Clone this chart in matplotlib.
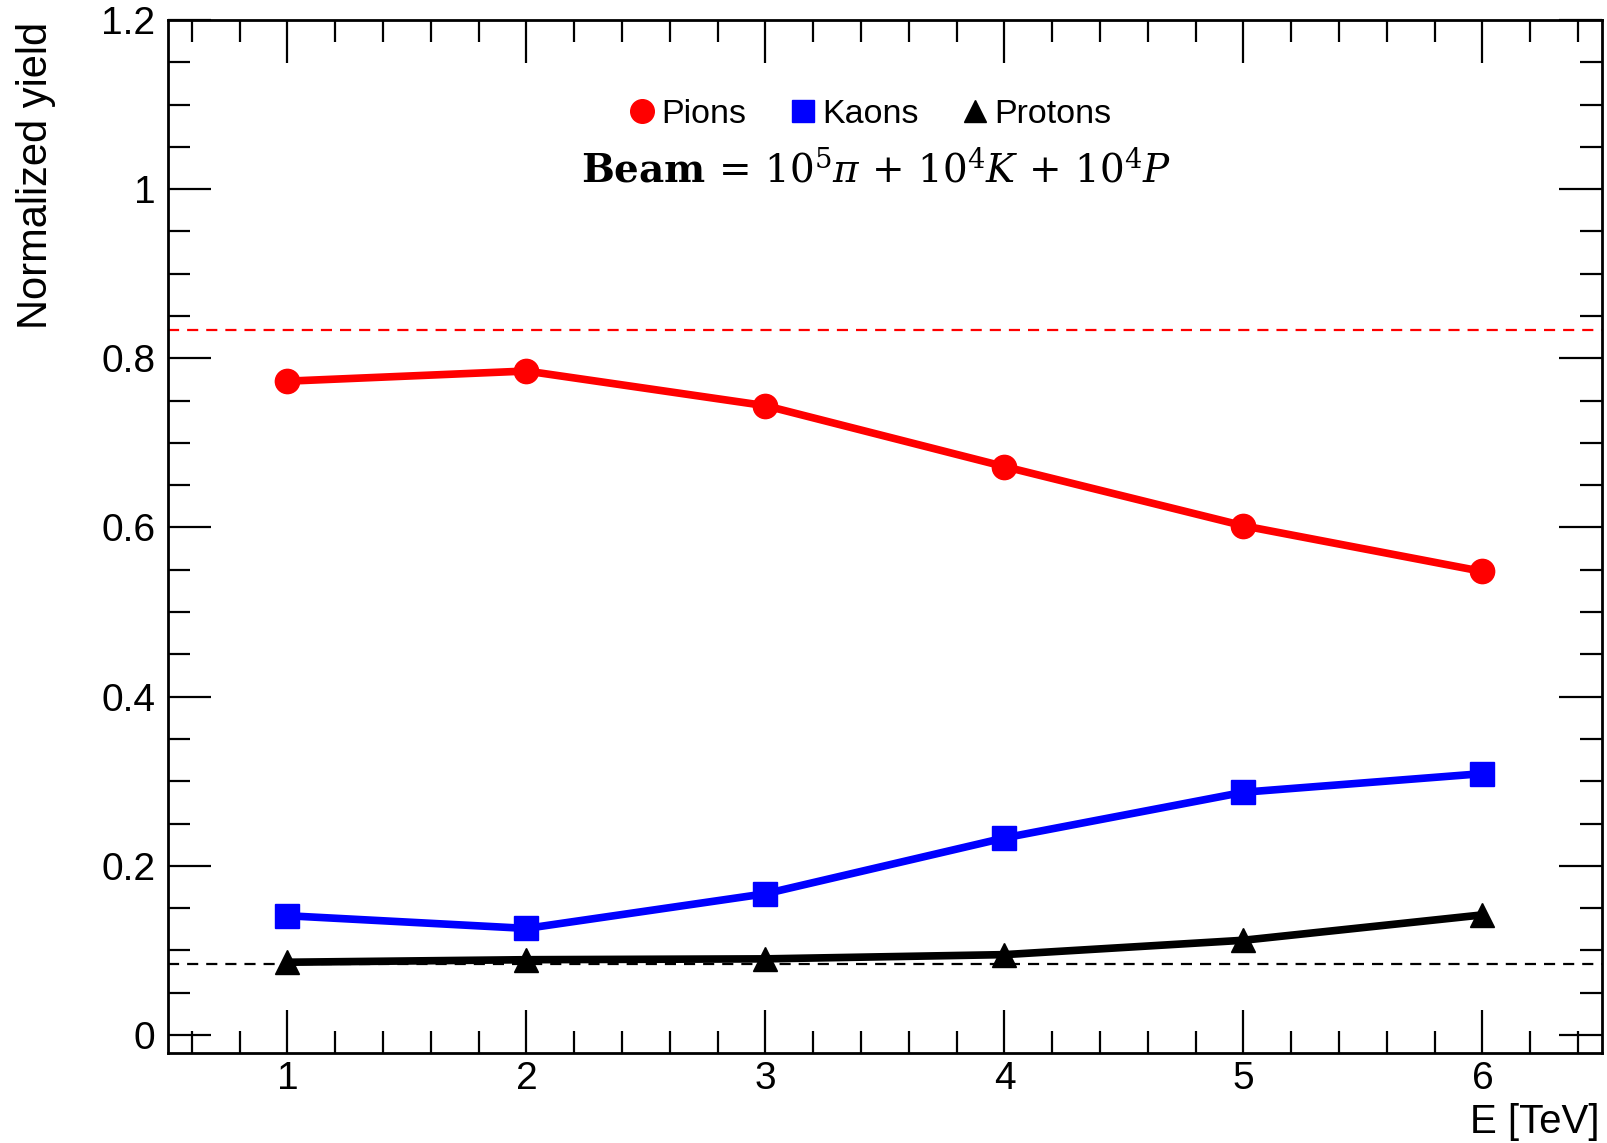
import matplotlib
matplotlib.use("Agg")
import matplotlib.pyplot as plt
from matplotlib.lines import Line2D
from matplotlib.ticker import MultipleLocator

# ---- data ----
energy = [1, 2, 3, 4, 5, 6]
pions = [0.773, 0.785, 0.744, 0.672, 0.602, 0.548]
kaons = [0.141, 0.126, 0.167, 0.233, 0.287, 0.309]
protons = [0.086, 0.089, 0.090, 0.095, 0.112, 0.142]
pion_ref = 1e5 / 1.2e5
other_ref = 1e4 / 1.2e5
series_labels = ["Pions", "Kaons", "Protons"]
xlabel = "E [TeV]"
ylabel = "Normalized yield"
beam_text = r"$\mathbf{Beam}\,=\,10^{5}\pi\,+\,10^{4}K\,+\,10^{4}P$"

plt.rcParams["font.family"] = ["Liberation Sans", "DejaVu Sans"]
plt.rcParams["mathtext.fontset"] = "dejavuserif"

fig = plt.figure(figsize=(16.08, 11.43), dpi=100)
ax = fig.add_axes([168/1608, 1-1053/1143, (1602-168)/1608, (1053-20)/1143])

lw = 5.5
ax.plot(energy, pions, color="#ff0000", lw=lw, marker="o", ms=17.5, zorder=3)
ax.plot(energy, kaons, color="#0000ff", lw=lw, marker="s", ms=17, zorder=3)
ax.plot(energy, protons, color="black", lw=lw, marker="^", ms=17.5, zorder=3)

ax.axhline(pion_ref, color="#ff0000", lw=1.6, linestyle=(0, (5.0, 3.6)), zorder=2)
ax.axhline(other_ref, color="black", lw=1.6, linestyle=(0, (5.0, 3.6)), zorder=2)

ax.set_xlim(0.5, 6.5)
ax.set_ylim(-0.0213, 1.2)
ax.xaxis.set_minor_locator(MultipleLocator(0.2))
ax.yaxis.set_minor_locator(MultipleLocator(0.05))
ax.set_xticks(energy)
ax.set_xticklabels([str(e) for e in energy])
ax.set_yticks([0, 0.2, 0.4, 0.6, 0.8, 1.0, 1.2])
ax.set_yticklabels(["0", "0.2", "0.4", "0.6", "0.8", "1", "1.2"])

ax.tick_params(which="both", direction="in", top=True, right=True, width=1.6, color="black")
ax.tick_params(which="major", length=31, labelsize=28)
ax.tick_params(which="minor", length=16)
ax.tick_params(axis="x", which="major", pad=6)
ax.tick_params(axis="y", which="major", pad=9)
for s in ax.spines.values():
    s.set_linewidth(2.0)

fig.text(1600/1608, 1-1141/1143, xlabel, ha="right", va="bottom", fontsize=29)
fig.text(16/1608, 1-22/1143, ylabel, rotation=90, ha="left", va="top", fontsize=30)

handles = [
    Line2D([], [], color="#ff0000", marker="o", ms=17, lw=0),
    Line2D([], [], color="#0000ff", marker="s", ms=16.5, lw=0),
    Line2D([], [], color="black", marker="^", ms=16.5, lw=0),
]
ax.legend(handles, series_labels, ncol=3, loc="center", bbox_to_anchor=(0.4895, 0.909),
          frameon=False, fontsize=24.5, handlelength=0.8, handletextpad=0.15,
          columnspacing=1.28, borderpad=0.2)

ax.text(0.494, 0.855, beam_text, transform=ax.transAxes, ha="center", va="center",
        fontsize=28)

fig.savefig("out.png", dpi=100)
